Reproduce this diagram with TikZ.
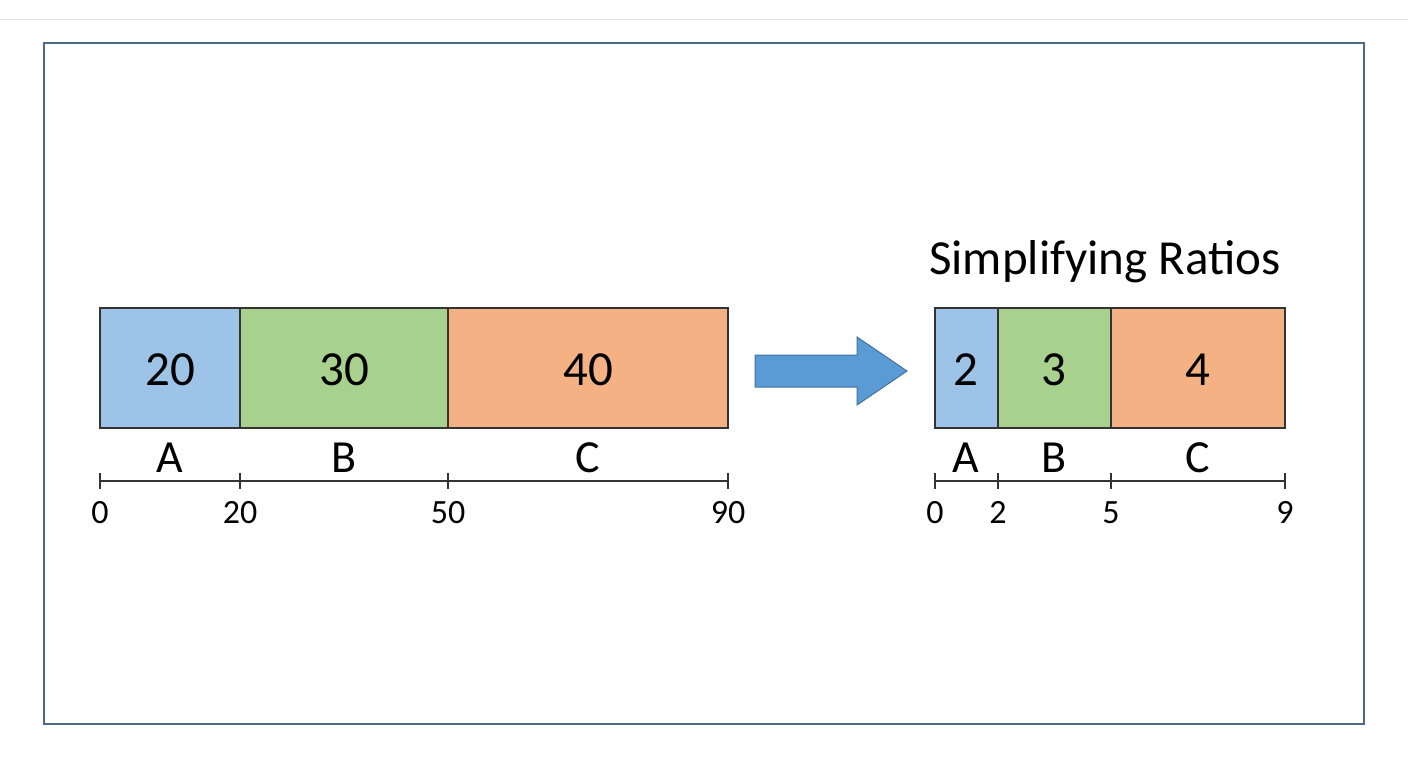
\documentclass[tikz,border=0pt]{standalone}
\usepackage{fontspec}
\setmainfont{Carlito}
\definecolor{cA}{HTML}{9DC3E6}
\definecolor{cB}{HTML}{A9D18E}
\definecolor{cC}{HTML}{F4B183}
\definecolor{arr}{HTML}{5B9BD5}
\definecolor{arrd}{HTML}{41719C}
\definecolor{frame}{HTML}{4A6A85}
\begin{document}
\begin{tikzpicture}[x=1pt,y=-1pt,
  seg/.style={draw=black!80,line width=1.2pt,inner sep=0pt},
  big/.style={font=\fontsize{49}{52}\selectfont},
  lab/.style={font=\fontsize{46}{50}\selectfont},
  num/.style={font=\fontsize{34}{38}\selectfont},
  axis/.style={draw=black!80,line width=1.2pt}]
\useasboundingbox (0,0) rectangle (1408,768);
\fill[white] (0,0) rectangle (1408,768);
\draw[black!10,line width=1pt] (0,20) -- (1408,20);
\draw[draw=frame,line width=1.2pt] (44,43) rectangle (1364,724);
% left bar
\path[seg,fill=cA] (100,308) rectangle (240,428);
\node[big] (a1) at (170,370) {20};
\path[seg,fill=cB] (240,308) rectangle (448,428);
\node[big] (b1) at (344,370) {30};
\path[seg,fill=cC] (448,308) rectangle (728,428);
\node[big] (c1) at (588,370) {40};
\node[lab] at (170,458) {A};
\node[lab] at (344,458) {B};
\node[lab] at (588,458) {C};
\draw[axis] (100,481) -- (728,481);
\foreach \x/\t in {100/0,240/20,448/50,728/90}{
  \draw[axis] (\x,473) -- (\x,489);
  \node[num,anchor=base] at (\x,523) {\t};}
% arrow
\draw[fill=arr,draw=arrd,line width=1pt]
  (755,355) -- (857,355) -- (857,337) -- (907,371) -- (857,405) -- (857,387) -- (755,387) -- cycle;
% right
\node[big] (t) at (1105,262) {Simplifying Ratios};
\path[seg,fill=cA] (935,308) rectangle (998,428);
\node[big] (a2) at (966,370) {2};
\path[seg,fill=cB] (998,308) rectangle (1111,428);
\node[big] (b2) at (1054,370) {3};
\path[seg,fill=cC] (1111,308) rectangle (1285,428);
\node[big] (c2) at (1198,370) {4};
\node[lab] at (966,458) {A};
\node[lab] at (1054,458) {B};
\node[lab] at (1198,458) {C};
\draw[axis] (935,481) -- (1285,481);
\foreach \x/\t in {935/0,998/2,1111/5,1285/9}{
  \draw[axis] (\x,473) -- (\x,489);
  \node[num,anchor=base] at (\x,523) {\t};}
\end{tikzpicture}
\end{document}
